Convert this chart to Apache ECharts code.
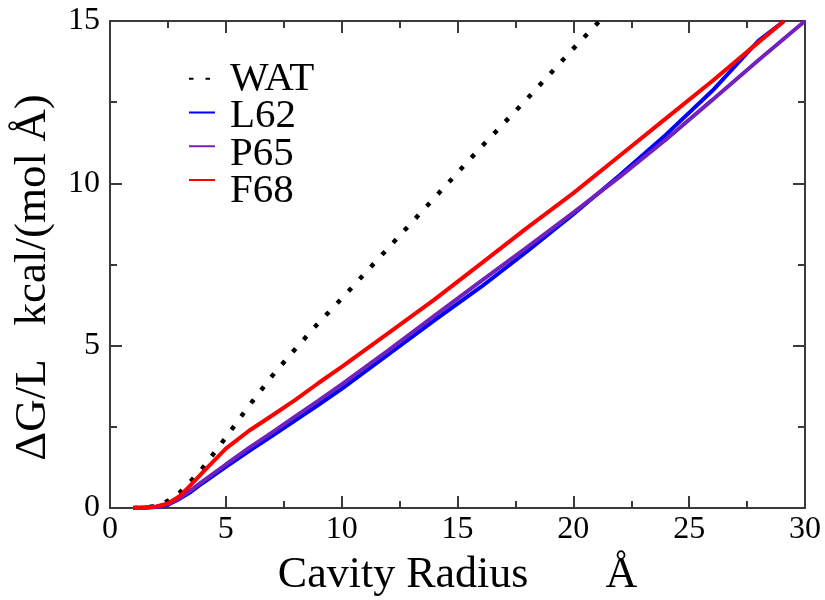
<!DOCTYPE html>
<html>
<head>
<meta charset="utf-8">
<script src="https://cdn.jsdelivr.net/npm/echarts@6/dist/echarts.min.js"></script>
<style>
  html, body { margin: 0; padding: 0; background: #fff; }
  #chart { width: 825px; height: 600px; }
</style>
</head>
<body>
<div id="chart"></div>
<script>
// ---- Data ----
const watX  = [1, 2, 2.5, 3, 3.5, 4, 5, 6, 7, 8, 9, 10, 12, 14, 16, 18, 20, 21.2];
const watY  = [0, 0.05, 0.22, 0.47, 0.84, 1.23, 2.17, 3.15, 4.07, 4.9, 5.7, 6.45, 8.0, 9.55, 11.1, 12.6, 14.15, 15.05];

const l62X  = [1, 2, 2.5, 3, 3.5, 4, 5, 6, 7, 8, 9, 10, 12, 14, 16, 18, 20, 22, 24, 26, 28, 29.1];
const l62Y  = [0, 0.03, 0.1, 0.28, 0.5, 0.77, 1.27, 1.75, 2.22, 2.7, 3.18, 3.67, 4.72, 5.78, 6.8, 7.9, 9.05, 10.25, 11.5, 12.85, 14.4, 15.0];

const p65X  = [1, 2, 2.5, 3, 3.5, 4, 5, 6, 7, 8, 9, 10, 12, 14, 16, 18, 20, 22, 24, 26, 28, 30];
const p65Y  = [0, 0.03, 0.12, 0.3, 0.55, 0.82, 1.34, 1.85, 2.33, 2.82, 3.31, 3.81, 4.85, 5.92, 6.98, 8.03, 9.1, 10.2, 11.35, 12.57, 13.8, 15.0];

const f68X  = [1, 1.5, 2, 2.5, 3, 3.5, 4, 5, 6, 7, 8, 9, 10, 12, 14, 16, 18, 20, 22, 24, 26, 28, 29.1];
const f68Y  = [0, 0.0, 0.05, 0.14, 0.36, 0.72, 1.1, 1.83, 2.38, 2.85, 3.33, 3.85, 4.35, 5.38, 6.42, 7.52, 8.63, 9.7, 10.85, 12.0, 13.15, 14.35, 15.0];

const seriesNames = ['WAT', 'L62', 'P65', 'F68'];
const xTicks = [0, 5, 10, 15, 20, 25, 30];
const yTicks = [0, 5, 10, 15];

function pairs(xs, ys) { return xs.map((x, i) => [x, ys[i]]); }

const FONT = '"Liberation Serif", serif';
const LEG_FONT = '"Times New Roman", "Liberation Serif", "DejaVu Serif", serif';
const AXIS_COLOR = '#3a3a3a';

// legend layout: icons from the legend component, names drawn as graphic text
const LEG_LEFT = 187, LEG_TOP = 60, LEG_STEP = 37.5, LEG_ICON_W = 26, LEG_TEXT_X = 230;

const chart = echarts.init(document.getElementById('chart'));

const axisCommon = {
  type: 'value',
  axisLine: { show: true, onZero: false, lineStyle: { color: AXIS_COLOR, width: 2 } },
  axisTick: { show: true, inside: true, length: 12, lineStyle: { color: AXIS_COLOR, width: 2 } },
  minorTick: { show: true, splitNumber: 2, length: 7, lineStyle: { color: AXIS_COLOR, width: 2 } },
  splitLine: { show: false },
  minorSplitLine: { show: false }
};

const option = {
  animation: false,
  backgroundColor: '#ffffff',
  textStyle: { fontFamily: FONT },
  grid: { left: 110, right: 20, top: 21, bottom: 92, containLabel: false, outerBoundsMode: 'none' },
  legend: {
    data: seriesNames,
    orient: 'vertical',
    left: LEG_LEFT,
    top: LEG_TOP,
    padding: 0,
    itemGap: 0,
    itemWidth: LEG_ICON_W,
    itemHeight: LEG_STEP,
    itemStyle: { opacity: 0 },
    formatter: () => '',
    textStyle: { fontSize: 10, color: '#000' }
  },
  graphic: seriesNames.map((n, i) => ({
    type: 'text',
    x: LEG_TEXT_X,
    y: LEG_TOP + i * LEG_STEP + LEG_STEP / 2,
    silent: true,
    style: {
      text: n,
      fontFamily: LEG_FONT,
      fontSize: 41,
      fontWeight: 'normal',
      verticalAlign: 'middle',
      align: 'left',
      fill: '#000'
    }
  })),
  xAxis: [
    Object.assign({}, axisCommon, {
      min: 0, max: 30, interval: 5, position: 'bottom',
      name: 'Cavity Radius       Å',
      nameLocation: 'middle',
      nameGap: 45,
      nameTextStyle: { fontFamily: FONT, fontSize: 44, color: '#000' },
      axisLabel: {
        show: true, margin: 6, fontFamily: FONT, fontSize: 32, color: '#000',
        formatter: v => (xTicks.indexOf(v) >= 0 ? String(v) : '')
      }
    }),
    Object.assign({}, axisCommon, {
      min: 0, max: 30, interval: 5, position: 'top',
      axisLabel: { show: false }
    })
  ],
  yAxis: [
    Object.assign({}, axisCommon, {
      min: 0, max: 15, interval: 5, position: 'left',
      name: 'ΔG/L   kcal/(mol Å)',
      nameLocation: 'middle',
      nameGap: 54,
      nameTextStyle: { fontFamily: FONT, fontSize: 45, color: '#000', padding: [0, 26, 0, 0] },
      axisLabel: {
        show: true, margin: 10, fontFamily: FONT, fontSize: 32, color: '#000',
        formatter: v => (yTicks.indexOf(v) >= 0 ? String(v) : '')
      }
    }),
    Object.assign({}, axisCommon, {
      min: 0, max: 15, interval: 5, position: 'right',
      axisLabel: { show: false }
    })
  ],
  series: [
    {
      name: 'WAT', type: 'line', data: pairs(watX, watY),
      showSymbol: false, symbol: 'none', clip: true,
      lineStyle: { color: '#000', width: 4.5, type: [4.5, 12] },
      itemStyle: { color: '#000' }
    },
    {
      name: 'L62', type: 'line', data: pairs(l62X, l62Y),
      showSymbol: false, symbol: 'none', clip: true,
      lineStyle: { color: '#0000ff', width: 4 },
      itemStyle: { color: '#0000ff' }
    },
    {
      name: 'P65', type: 'line', data: pairs(p65X, p65Y),
      showSymbol: false, symbol: 'none', clip: true,
      lineStyle: { color: '#7221bc', width: 4 },
      itemStyle: { color: '#7221bc' }
    },
    {
      name: 'F68', type: 'line', data: pairs(f68X, f68Y),
      showSymbol: false, symbol: 'none', clip: true,
      lineStyle: { color: '#ff0000', width: 4 },
      itemStyle: { color: '#ff0000' }
    }
  ]
};

chart.setOption(option);
</script>
</body>
</html>
